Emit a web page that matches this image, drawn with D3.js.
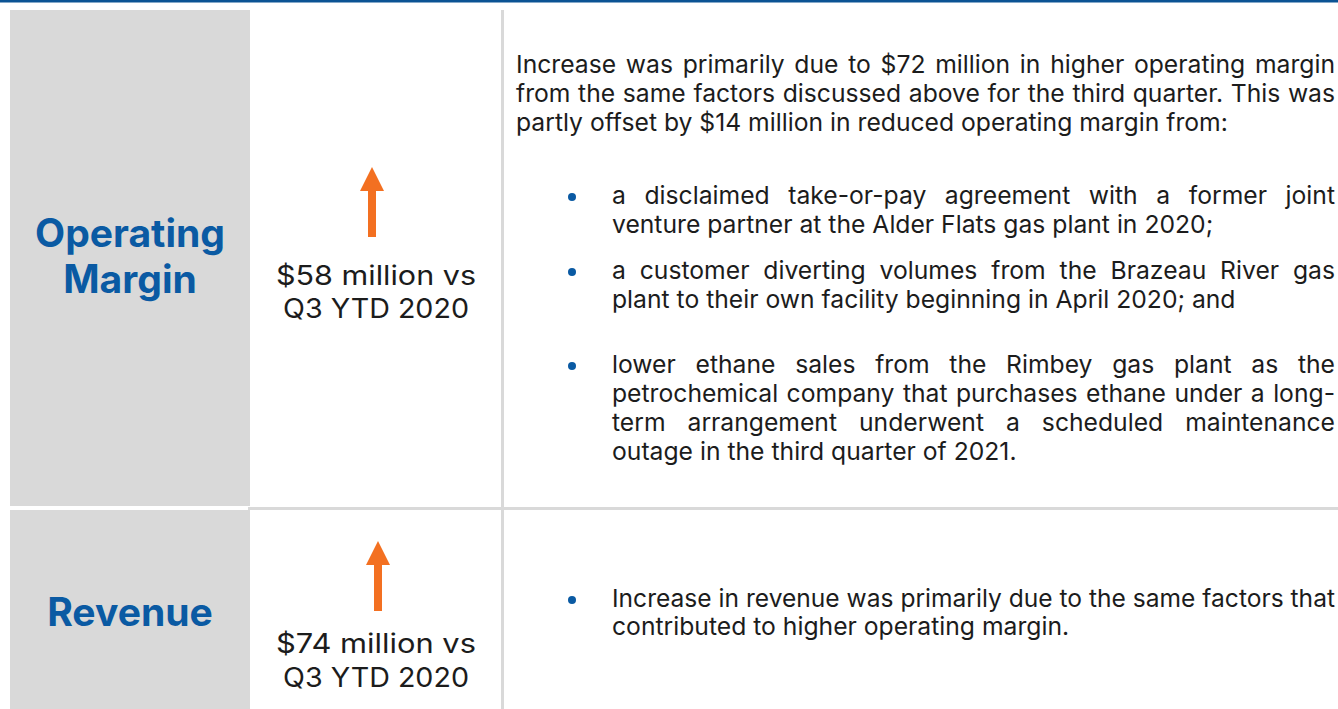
<!DOCTYPE html>
<html><head><meta charset="utf-8">
<script src="https://cdn.jsdelivr.net/npm/d3@7"></script>
<style>html,body{margin:0;padding:0;background:#fff;overflow:hidden}</style>
</head><body><svg id="c" width="1338" height="709"></svg>
<script>
// ---- data ----
const metrics = ["Operating Margin", "Revenue"];
const metricLines = [["Operating", "Margin"], ["Revenue"]];
const changeMillions = [58, 74];
const comparisonPeriod = "Q3 YTD 2020";
const introLines = [
  "Increase was primarily due to $72 million in higher operating margin",
  "from the same factors discussed above for the third quarter. This was",
  "partly offset by $14 million in reduced operating margin from:"
];
const marginBullets = [
  ["a disclaimed take-or-pay agreement with a former joint",
   "venture partner at the Alder Flats gas plant in 2020;"],
  ["a customer diverting volumes from the Brazeau River gas",
   "plant to their own facility beginning in April 2020; and"],
  ["lower ethane sales from the Rimbey gas plant as the",
   "petrochemical company that purchases ethane under a long-",
   "term arrangement underwent a scheduled maintenance",
   "outage in the third quarter of 2021."]
];
const revenueBullets = [
  ["Increase in revenue was primarily due to the same factors that",
   "contributed to higher operating margin."]
];

// ---- style / layout ----
const W = 1338, H = 709;
const BLUE = "#0a5aa3", DARK_BLUE = "#0b5394", ORANGE = "#f37021", GRAY = "#d9d9d9", TEXT = "#1c1c1c";
const FONT = "Inter, 'Open Sans', sans-serif";
const svg = d3.select("#c");

const y = d3.scaleLinear().domain([0, H]).range([0, H]);
const rows = [{top: 10, bottom: 506}, {top: 510, bottom: 709}];

svg.append("rect").attr("x", 0).attr("y", 0).attr("width", W).attr("height", 2.5).attr("fill", DARK_BLUE);
svg.selectAll("rect.panel").data(rows).join("rect").attr("class", "panel")
  .attr("x", 10).attr("width", 240)
  .attr("y", d => y(d.top)).attr("height", d => y(d.bottom) - y(d.top))
  .attr("fill", GRAY);
svg.append("rect").attr("x", 501).attr("y", 10).attr("width", 3).attr("height", H - 10).attr("fill", GRAY);
svg.append("rect").attr("x", 248).attr("y", 507).attr("width", W - 248).attr("height", 3).attr("fill", GRAY);

function fitSize(text, weight, target) {
  const t = svg.append("text").attr("font-family", FONT).attr("font-weight", weight)
    .attr("font-size", 20).text(text);
  const w = t.node().getComputedTextLength();
  t.remove();
  return 20 * target / w;
}

// headings
const headSize = fitSize("Operating", 700, 190);
const headBaselines = [[247, 293], [626]];
metricLines.forEach((lines, i) => {
  lines.forEach((ln, j) => {
    svg.append("text").attr("x", 130).attr("y", headBaselines[i][j])
      .attr("text-anchor", "middle").attr("font-family", FONT).attr("font-weight", 700)
      .attr("font-size", headSize).attr("fill", BLUE).text(ln);
  });
});

// arrows + change text
const arrowGeo = [{cx: 372, top: 167, bottom: 237}, {cx: 378, top: 541, bottom: 611}];
const midBaselines = [[285, 318], [653, 687]];
const midWidths = [200, 186];
const midSize = 27;
changeMillions.forEach((v, i) => {
  const a = arrowGeo[i];
  const hb = a.top + 24, hw = 12, sw = 4;
  const p = d3.path();
  p.moveTo(a.cx, a.top); p.lineTo(a.cx + hw, hb); p.lineTo(a.cx + sw, hb);
  p.lineTo(a.cx + sw, a.bottom); p.lineTo(a.cx - sw, a.bottom); p.lineTo(a.cx - sw, hb);
  p.lineTo(a.cx - hw, hb); p.closePath();
  svg.append("path").attr("d", p.toString()).attr("fill", ORANGE);
  [`$${v} million vs`, comparisonPeriod].forEach((ln, j) => {
    svg.append("text").attr("x", 376).attr("y", midBaselines[i][j]).attr("text-anchor", "middle")
      .attr("font-family", FONT).attr("font-weight", 400).attr("font-size", midSize)
      .attr("textLength", midWidths[j]).attr("lengthAdjust", "spacingAndGlyphs")
      .attr("fill", TEXT).text(ln);
  });
});

// body text
const bodySize = fitSize("partly offset by $14 million in reduced operating margin from:", 400, 712);
function line(text, x, yy, right, justify) {
  const t = svg.append("text").attr("x", x).attr("y", yy).attr("font-family", FONT)
    .attr("font-size", bodySize).attr("fill", TEXT).text(text);
  if (justify) {
    const w = t.node().getComputedTextLength();
    const n = (text.match(/ /g) || []).length;
    const extra = (right - x) - w;
    if (extra > 0 && n > 0) t.style("word-spacing", (extra / n) + "px");
    else if (extra < 0) t.attr("textLength", right - x).attr("lengthAdjust", "spacingAndGlyphs");
  }
}
function paragraph(lines, x, baselines, right) {
  lines.forEach((ln, k) => line(ln, x, baselines[k], right, k < lines.length - 1));
}
paragraph(introLines, 516, [73, 102, 131], 1335);
const mbBase = [[204, 233], [279, 308], [373, 402, 431, 460]];
const rbBase = [[607, 635]];
function bullets(list, bases) {
  list.forEach((lines, i) => {
    svg.append("circle").attr("cx", 572).attr("cy", bases[i][0] - 7).attr("r", 4).attr("fill", BLUE);
    paragraph(lines, 612, bases[i], 1335);
  });
}
bullets(marginBullets, mbBase);
bullets(revenueBullets, rbBase);
</script></body></html>
